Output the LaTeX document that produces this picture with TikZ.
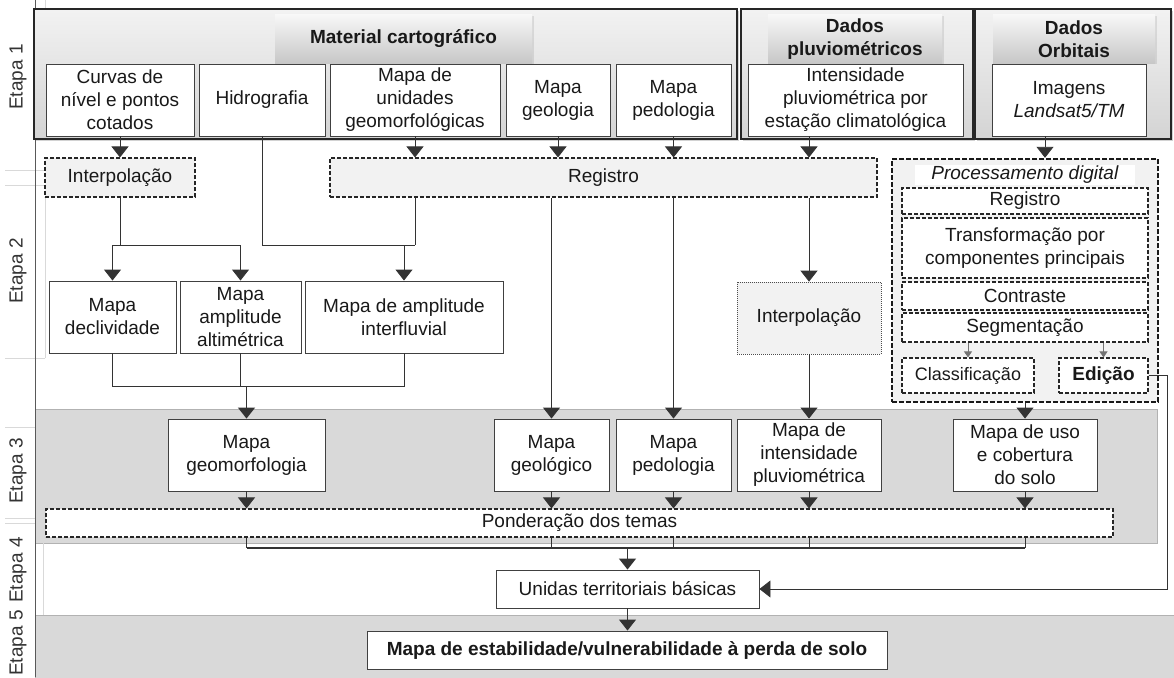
\documentclass[tikz,border=0pt]{standalone}
\usepackage{fontspec}
\setmainfont{Liberation Sans}
\usetikzlibrary{arrows.meta,shadows,calc}
\definecolor{bandgray}{HTML}{D9D9D9}
\definecolor{lightfill}{HTML}{F2F2F2}
\begin{document}
\begin{tikzpicture}[x=1pt,y=-1pt,
  txt/.style={font=\fontsize{19}{23}\selectfont, text=black!90, align=center, inner sep=0pt},
  wbox/.style={txt, rectangle, draw=black!75, line width=0.9pt, fill=white},
  dbox/.style={txt, rectangle, draw=black!85, line width=1.1pt, dash pattern=on 4pt off 2pt, fill=lightfill},
  obox/.style={rectangle, draw=black!85, line width=1.6pt, top color=black!5, bottom color=black!17,
     drop shadow={shadow xshift=2pt, shadow yshift=-2pt, opacity=0.35}},
  tabbox/.style={txt, font=\fontsize{19}{23}\selectfont\bfseries, rectangle, draw=none,
     top color=black!3, bottom color=black!22,
     drop shadow={shadow xshift=1.5pt, shadow yshift=-1pt, opacity=0.2}},
  conn/.style={draw=black!80, line width=0.9pt},
  arr/.style={conn, -{Triangle[width=17pt,length=11pt]}},
  sarr/.style={draw=black!55, line width=0.8pt, -{Triangle[width=8pt,length=6pt]}},
  bandbox/.style={fill=bandgray, draw=black!30, line width=0.8pt},
  faint/.style={draw=black!15, line width=0.6pt},
  etapa/.style={txt, rotate=90, text=black!80}
]
\useasboundingbox (0,0) rectangle (1174,677);
\fill[white] (0,0) rectangle (1174,677);

% background bands
\path[bandbox] (35,409) rectangle (1157,543);
\path[bandbox] (35,615) rectangle (1176,679);

% faint table lines at left
\draw[faint] (45,0) -- (45,9);
\draw[faint] (5,170) -- (45,170);
\draw[faint] (5,185) -- (45,185) -- (45,358);
\draw[faint] (5,358) -- (45,358);
\draw[faint] (5,427) -- (35,427);
\draw[faint] (5,518) -- (35,518);
\draw[faint] (5,523) -- (35,523);
\draw[faint] (43,543) -- (43,615);
\draw[draw=black!65, line width=0.9pt] (35,0) -- (35,677);

% stage labels
\node[etapa] (e1) at (18,77) {Etapa 1};
\node[etapa] (e2) at (18,271) {Etapa 2};
\node[etapa] (e3) at (18,471) {Etapa 3};
\node[etapa] (e4) at (18,570) {Etapa 4};
\node[etapa] (e5) at (18,643) {Etapa 5};

% Etapa 1 frames
\node[obox, minimum width=703pt, minimum height=130pt] (matbox) at (385.5,74) {};
\node[obox, minimum width=232pt, minimum height=130pt] (pluvbox) at (857,74) {};
\node[obox, minimum width=196pt, minimum height=130pt] (orbbox) at (1073,74) {};
\node[tabbox, minimum width=257pt, minimum height=48pt] (mattab) at (403.5,39) {Material cartográfico};
\node[tabbox, minimum width=174pt, minimum height=48pt] (pluvtab) at (855,39) {Dados\\pluviométricos};
\node[tabbox, minimum width=162pt, minimum height=48pt] (orbtab) at (1074,39) {Dados\\Orbitais};

% Etapa 1 items
\node[wbox, minimum width=148pt, minimum height=72pt] (curvas) at (120,100) {Curvas de\\nível e pontos\\cotados};
\node[wbox, minimum width=126pt, minimum height=72pt] (hidro) at (262,100) {Hidrografia};
\node[wbox, minimum width=170pt, minimum height=72pt] (unid) at (415,100) {Mapa de\\unidades\\geomorfológicas};
\node[wbox, minimum width=104pt, minimum height=72pt] (geol) at (558,100) {Mapa\\geologia};
\node[wbox, minimum width=115pt, minimum height=72pt] (pedo) at (673.5,100) {Mapa\\pedologia};
\node[wbox, minimum width=215pt, minimum height=72pt] (intens) at (855.5,100) {Intensidade\\pluviométrica por\\estação climatológica};
\node[wbox, minimum width=154pt, minimum height=72pt] (imagens) at (1069,100) {Imagens\\\textit{Landsat5/TM}};

% Etapa 2
\node[dbox, minimum width=150pt, minimum height=39pt] (interp1) at (120,177.5) {Interpolação};
\node[dbox, minimum width=547pt, minimum height=39pt] (registro) at (603.5,177.5) {Registro};
\node[wbox, minimum width=127pt, minimum height=72pt] (decl) at (112.5,317) {Mapa\\declividade};
\node[wbox, minimum width=121pt, minimum height=72pt] (ampl) at (240.5,317) {Mapa\\amplitude\\altimétrica};
\node[wbox, minimum width=198pt, minimum height=72pt] (inter) at (404,317) {Mapa de amplitude\\interfluvial};
\node[txt, rectangle, draw=black!70, line width=0.7pt, dash pattern=on 1pt off 1pt, fill=lightfill,
      minimum width=144pt, minimum height=72pt] (interp2) at (809,318) {Interpolação};

% Processamento digital
\node[rectangle, draw=black!90, line width=2.4pt, dash pattern=on 5pt off 2pt, fill=lightfill,
      minimum width=266pt, minimum height=243pt] (proc) at (1025,280.5) {};
\node[txt, fill=white, minimum width=220pt, minimum height=20pt] (plabel) at (1025,175) {\textit{Processamento digital}};
\node[dbox, fill=white, minimum width=246pt, minimum height=26pt] (preg) at (1025,201) {Registro};
\node[dbox, fill=white, minimum width=246pt, minimum height=60pt] (ptrans) at (1025,248) {Transformação por\\componentes principais};
\node[dbox, fill=white, minimum width=246pt, minimum height=28pt] (pcont) at (1025,296) {Contraste};
\node[dbox, fill=white, minimum width=246pt, minimum height=29pt] (pseg) at (1025,327.5) {Segmentação};
\node[dbox, fill=white, minimum width=132pt, minimum height=35pt, font=\fontsize{18}{22}\selectfont] (pclass) at (968,375.5) {Classificação};
\node[dbox, fill=white, minimum width=89pt, minimum height=35pt, font=\fontsize{19}{23}\selectfont\bfseries] (pedic) at (1103.5,375.5) {Edição};

% Etapa 3
\node[wbox, minimum width=157pt, minimum height=72pt] (geomorf) at (246.5,455) {Mapa\\geomorfologia};
\node[wbox, minimum width=115pt, minimum height=72pt] (geologico) at (551.5,455) {Mapa\\geológico};
\node[wbox, minimum width=115pt, minimum height=72pt] (pedo3) at (673.5,455) {Mapa\\pedologia};
\node[wbox, minimum width=144pt, minimum height=72pt] (intens3) at (809,455) {Mapa de\\intensidade\\pluviométrica};
\node[wbox, minimum width=144pt, minimum height=72pt] (uso) at (1025,455) {Mapa de uso\\e cobertura\\do solo};

% Etapa 4 / 5
\node[dbox, fill=white, minimum width=1067pt, minimum height=28pt] (ponder) at (579.5,523) {Ponderação dos temas};
\node[wbox, minimum width=263pt, minimum height=38pt] (unidas) at (627.5,589) {Unidas territoriais básicas};
\node[wbox, minimum width=520pt, minimum height=38pt, font=\fontsize{19}{23}\selectfont\bfseries] (estab) at (627,650) {Mapa de estabilidade/vulnerabilidade à perda de solo};

% junction coordinates
\coordinate (ja) at (120,245);
\coordinate (jb) at (112,386);
\coordinate (jc) at (247,548);
\coordinate (jd) at (1167,589);
\coordinate (jimg) at (1045,136);

% Etapa 1 -> Etapa 2
\draw[arr] (curvas.south) -- (interp1.north);
\draw[arr] (unid.south) -- (unid.south |- registro.north);
\draw[arr] (geol.south) -- (geol.south |- registro.north);
\draw[arr] (pedo.south) -- (pedo.south |- registro.north);
\draw[arr] (interp2.north |- intens.south) -- (interp2.north |- registro.north);
\draw[arr] (jimg) -- (jimg |- proc.north);

% Interpolação -> declividade, amplitude
\draw[conn] (interp1.south) -- (ja);
\draw[conn] (decl.north |- ja) -- (ampl.north |- ja);
\draw[arr] (decl.north |- ja) -- (decl.north);
\draw[arr] (ampl.north |- ja) -- (ampl.north);
% Hidrografia + Registro -> interfluvial
\draw[conn] (hidro.south) -- (hidro.south |- ja) -- (unid.south |- ja);
\draw[conn] (unid.south |- registro.south) -- (unid.south |- ja);
\draw[arr] (inter.north |- ja) -- (inter.north);
% Registro -> geológico, pedologia, interpolação
\draw[arr] (geologico.north |- registro.south) -- (geologico.north);
\draw[arr] (pedo3.north |- registro.south) -- (pedo3.north);
\draw[arr] (interp2.north |- registro.south) -- (interp2.north);
\draw[arr] (interp2.south) -- (intens3.north);
% Etapa 2 maps -> geomorfologia
\draw[conn] (decl.south) -- (decl.south |- jb) -- (inter.south |- jb) -- (inter.south);
\draw[conn] (ampl.south) -- (ampl.south |- jb);
\draw[arr, line width=1.6pt] (geomorf.north |- jb) -- (geomorf.north);
% Processamento
\draw[sarr] (pclass.north |- pseg.south) -- (pclass.north);
\draw[sarr] (pedic.north |- pseg.south) -- (pedic.north);
\draw[arr] (uso.north |- proc.south) -- (uso.north);
% Etapa 3 -> Ponderação
\foreach \n in {geomorf,geologico,pedo3,intens3,uso}{
  \draw[arr] (\n.south) -- (\n.south |- ponder.north);
  \draw[conn] (\n.south |- ponder.south) -- (\n.south |- jc);
}
\draw[conn, line width=1.4pt] (geomorf.south |- jc) -- (uso.south |- jc);
\draw[arr, line width=1.4pt] (unidas.north |- jc) -- (unidas.north);
\draw[arr] (unidas.south) -- (unidas.south |- estab.north);
% Edição -> Unidas
\draw[arr] (pedic.east) -- (pedic.east -| jd) -- (jd) -- (unidas.east);
\end{tikzpicture}
\end{document}
